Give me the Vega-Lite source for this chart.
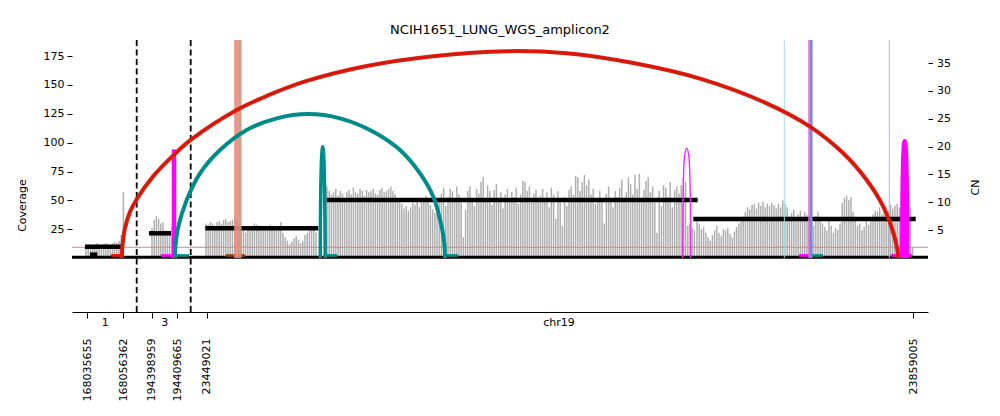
{
"$schema": "https://vega.github.io/schema/vega-lite/v6.json",
"width": 856, "height": 272,
"autosize": {"type": "none"},
"padding": {"left": 72, "top": 40, "right": 72, "bottom": 104},
"title": {"text": "NCIH1651_LUNG_WGS_amplicon2", "fontSize": 13, "fontWeight": "normal", "font": "DejaVu Sans", "color": "#000", "offset": 1, "anchor": "middle"},
"config": {"font": "DejaVu Sans", "view": {"stroke": null}, "axis": {"grid": false, "labelFont": "DejaVu Sans", "titleFont": "DejaVu Sans", "labelColor": "#000", "titleColor": "#000", "tickColor": "#000", "domainColor": "#000", "labelFontSize": 11, "titleFontSize": 11, "titleFontWeight": "normal"}},
"datasets": {
"cov": [
{"x":14,"c":11},{"x":16.2,"c":12},{"x":18.4,"c":10},{"x":20.6,"c":11},{"x":22.8,"c":12},{"x":25,"c":13},{"x":27.2,"c":12},{"x":29.4,"c":11},{"x":31.6,"c":12},{"x":33.8,"c":13},{"x":36,"c":12},{"x":38.2,"c":11},{"x":40.4,"c":13},{"x":42.6,"c":14},{"x":44.8,"c":13},{"x":47,"c":15},{"x":49.2,"c":20},{"x":51.4,"c":57},
{"x":80,"c":26},{"x":82.2,"c":33},{"x":84.4,"c":36},{"x":86.6,"c":34},{"x":88.8,"c":30},{"x":91,"c":31},{"x":93.2,"c":24},{"x":95.4,"c":20},{"x":97.6,"c":22},{"x":99.8,"c":27},
{"x":134,"c":30},{"x":136.2,"c":29},{"x":138.4,"c":31},{"x":140.6,"c":30},{"x":142.8,"c":28},
{"x":145,"c":31},{"x":147.2,"c":32},{"x":149.4,"c":30},{"x":151.6,"c":33},{"x":153.8,"c":34},
{"x":156,"c":31},{"x":158.2,"c":32},{"x":160.4,"c":33},{"x":162.6,"c":34},{"x":164.8,"c":33},
{"x":167,"c":30},{"x":169.2,"c":27},{"x":171.4,"c":24},{"x":173.6,"c":22},{"x":175.8,"c":26},
{"x":178,"c":25},{"x":180.2,"c":27},{"x":182.4,"c":30},{"x":184.6,"c":29},{"x":186.8,"c":26},
{"x":189,"c":28},{"x":191.2,"c":27},{"x":193.4,"c":25},{"x":195.6,"c":27},{"x":197.8,"c":29},
{"x":200,"c":28},{"x":202.2,"c":26},{"x":204.4,"c":24},{"x":206.6,"c":27},{"x":208.8,"c":31},
{"x":211,"c":22},{"x":213.2,"c":18},{"x":215.4,"c":15},{"x":217.6,"c":12},{"x":219.8,"c":14},
{"x":222,"c":17},{"x":224.2,"c":19},{"x":226.4,"c":16},{"x":228.6,"c":13},{"x":230.8,"c":15},
{"x":233,"c":20},{"x":235.2,"c":22},{"x":237.4,"c":24},{"x":239.6,"c":28},{"x":241.8,"c":25},
{"x":244,"c":22},
{"x":255,"c":62},{"x":257.2,"c":58},{"x":259.4,"c":55},{"x":261.6,"c":57},{"x":263.8,"c":60},{"x":266,"c":54},{"x":268.2,"c":58},{"x":270.4,"c":56},{"x":272.6,"c":52},{"x":274.8,"c":57},
{"x":277,"c":59},{"x":279.2,"c":55},{"x":281.4,"c":61},{"x":283.6,"c":57},{"x":285.8,"c":56},{"x":288,"c":60},{"x":290.2,"c":58},{"x":292.4,"c":54},{"x":294.6,"c":59},{"x":296.8,"c":57},
{"x":299,"c":58},{"x":301.2,"c":60},{"x":303.4,"c":56},{"x":305.6,"c":55},{"x":307.8,"c":59},{"x":310,"c":61},{"x":312.2,"c":57},{"x":314.4,"c":58},{"x":316.6,"c":60},{"x":318.8,"c":62},
{"x":321,"c":58},{"x":323.2,"c":55},{"x":325.4,"c":52},{"x":327.6,"c":50},{"x":329.8,"c":47},{"x":332,"c":43},{"x":334.2,"c":45},{"x":336.4,"c":41},{"x":338.6,"c":44},{"x":340.8,"c":48},
{"x":343,"c":46},{"x":345.2,"c":50},{"x":347.4,"c":44},{"x":349.6,"c":49},{"x":351.8,"c":52},{"x":354,"c":54},{"x":356.2,"c":49},{"x":358.4,"c":46},{"x":360.6,"c":42},{"x":362.8,"c":39},
{"x":365,"c":47},{"x":367.2,"c":51},{"x":369.4,"c":56},{"x":371.6,"c":61},{"x":373.8,"c":45},{"x":376,"c":53},{"x":378.2,"c":60},{"x":380.4,"c":58},{"x":382.6,"c":50},{"x":384.8,"c":62},
{"x":387,"c":55},{"x":389.2,"c":48},{"x":391.4,"c":18},{"x":393.6,"c":42},{"x":395.8,"c":58},{"x":398,"c":62},{"x":400.2,"c":52},{"x":402.4,"c":45},{"x":404.6,"c":60},{"x":406.8,"c":56},
{"x":409,"c":66},{"x":411.2,"c":70},{"x":413.4,"c":50},{"x":415.6,"c":63},{"x":417.8,"c":58},{"x":420,"c":46},{"x":422.2,"c":59},{"x":424.4,"c":64},{"x":426.6,"c":52},{"x":428.8,"c":57},
{"x":431,"c":43},{"x":433.2,"c":55},{"x":435.4,"c":60},{"x":437.6,"c":49},{"x":439.8,"c":57},{"x":442,"c":53},{"x":444.2,"c":61},{"x":446.4,"c":47},{"x":448.6,"c":55},{"x":450.8,"c":67},
{"x":453,"c":66},{"x":455.2,"c":58},{"x":457.4,"c":62},{"x":459.6,"c":48},{"x":461.8,"c":56},{"x":464,"c":59},{"x":466.2,"c":52},{"x":468.4,"c":54},{"x":470.6,"c":60},{"x":472.8,"c":50},
{"x":475,"c":57},{"x":477.2,"c":44},{"x":479.4,"c":61},{"x":481.6,"c":55},{"x":483.8,"c":34},{"x":486,"c":58},{"x":488.2,"c":49},{"x":490.4,"c":28},{"x":492.6,"c":53},{"x":494.8,"c":45},
{"x":497,"c":59},{"x":499.2,"c":62},{"x":501.4,"c":55},{"x":503.6,"c":71},{"x":505.8,"c":70},{"x":508,"c":58},{"x":510.2,"c":66},{"x":512.4,"c":72},{"x":514.6,"c":63},{"x":516.8,"c":68},
{"x":519,"c":55},{"x":521.2,"c":60},{"x":523.4,"c":47},{"x":525.6,"c":52},{"x":527.8,"c":58},{"x":530,"c":49},{"x":532.2,"c":30},{"x":534.4,"c":56},{"x":536.6,"c":62},{"x":538.8,"c":51},
{"x":541,"c":44},{"x":543.2,"c":58},{"x":545.4,"c":53},{"x":547.6,"c":61},{"x":549.8,"c":68},{"x":552,"c":49},{"x":554.2,"c":57},{"x":556.4,"c":70},{"x":558.6,"c":64},{"x":560.8,"c":55},
{"x":563,"c":72},{"x":565.2,"c":60},{"x":567.4,"c":73},{"x":569.6,"c":52},{"x":571.8,"c":59},{"x":574,"c":67},{"x":576.2,"c":70},{"x":578.4,"c":57},{"x":580.6,"c":62},{"x":582.8,"c":48},
{"x":585,"c":22},{"x":587.2,"c":58},{"x":589.4,"c":45},{"x":591.6,"c":63},{"x":593.8,"c":61},{"x":596,"c":53},{"x":598.2,"c":66},{"x":600.4,"c":44},{"x":602.6,"c":59},{"x":604.8,"c":62},
{"x":607,"c":56},{"x":609.2,"c":63},{"x":611.4,"c":70},{"x":613.6,"c":66},{"x":615.8,"c":28},{"x":618,"c":30},{"x":620.2,"c":26},{"x":622.4,"c":24},
{"x":625,"c":32},{"x":627.2,"c":30},{"x":629.4,"c":25},{"x":631.6,"c":27},{"x":633.8,"c":22},{"x":636,"c":18},{"x":638.2,"c":15},{"x":640.4,"c":20},{"x":642.6,"c":24},{"x":644.8,"c":28},
{"x":647,"c":22},{"x":649.2,"c":19},{"x":651.4,"c":25},{"x":653.6,"c":24},{"x":655.8,"c":26},{"x":658,"c":21},{"x":660.2,"c":18},{"x":662.4,"c":23},{"x":664.6,"c":27},{"x":666.8,"c":30},
{"x":669,"c":33},{"x":671.2,"c":36},{"x":673.4,"c":40},{"x":675.6,"c":44},{"x":677.8,"c":42},{"x":680,"c":46},{"x":682.2,"c":47},{"x":684.4,"c":43},{"x":686.6,"c":48},{"x":688.8,"c":45},
{"x":691,"c":49},{"x":693.2,"c":44},{"x":695.4,"c":47},{"x":697.6,"c":45},{"x":699.8,"c":48},{"x":702,"c":46},{"x":704.2,"c":43},{"x":706.4,"c":47},{"x":708.6,"c":44},{"x":710.8,"c":50},
{"x":713,"c":47},{"x":715.2,"c":44},{"x":717.4,"c":36},{"x":719.6,"c":39},{"x":721.8,"c":42},{"x":724,"c":33},{"x":726.2,"c":38},{"x":728.4,"c":41},{"x":730.6,"c":35},{"x":732.8,"c":40},
{"x":735,"c":37},{"x":737.2,"c":34},{"x":739.4,"c":31},{"x":741.6,"c":28},{"x":743.8,"c":36},{"x":746,"c":40},{"x":748.2,"c":35},{"x":750.4,"c":30},{"x":752.6,"c":27},{"x":754.8,"c":24},
{"x":757,"c":32},{"x":759.2,"c":28},{"x":761.4,"c":22},{"x":763.6,"c":26},{"x":765.8,"c":24},{"x":768,"c":30},{"x":770.2,"c":48},{"x":772.4,"c":52},{"x":774.6,"c":54},{"x":776.8,"c":50},
{"x":779,"c":53},{"x":781.2,"c":40},{"x":783.4,"c":32},{"x":785.6,"c":28},{"x":787.8,"c":30},{"x":790,"c":24},{"x":792.2,"c":27},{"x":794.4,"c":33},{"x":796.6,"c":29},{"x":798.8,"c":35},
{"x":801,"c":38},{"x":803.2,"c":41},{"x":805.4,"c":40},{"x":807.6,"c":44},{"x":809.8,"c":38},{"x":812,"c":42},{"x":814.2,"c":44},{"x":816.4,"c":41},{"x":818.6,"c":46},{"x":820.8,"c":43},
{"x":823,"c":45},{"x":825.2,"c":47},{"x":827.4,"c":44},{"x":829.6,"c":42},{"x":831.8,"c":40},{"x":834,"c":38},{"x":836.2,"c":36},{"x":838.4,"c":44},{"x":840.6,"c":9}
],
"cn": [
{"x":13,"x2":49,"cn":2.03},{"x":18,"x2":25.3,"cn":0.6},{"x":77,"x2":99,"cn":4.44},{"x":133.3,"x2":246.3,"cn":5.33},{"x":254.7,"x2":625.7,"cn":10.42},{"x":621.3,"x2":843.7,"cn":7.0}
],
"arcRed": [
{"x":49.7,"y":0},{"x":50.6,"y":12},{"x":53,"y":26},{"x":58,"y":40},{"x":64.7,"y":51},{"x":81.3,"y":71},{"x":101.3,"y":89},{"x":119.7,"y":103},{"x":164.7,"y":128.3},{"x":194.7,"y":140.5},{"x":234.7,"y":153.5},{"x":294.7,"y":166.5},{"x":361.3,"y":175},{"x":435,"y":179.3},{"x":494.7,"y":177.5},{"x":561.3,"y":169},{"x":628,"y":155.5},{"x":694.7,"y":134.1},{"x":738,"y":113.9},{"x":771.3,"y":90.8},{"x":794.7,"y":67.6},{"x":811.3,"y":44.5},{"x":821.3,"y":22},{"x":825,"y":9},{"x":826.3,"y":0}
],
"arcTeal": [
{"x":103,"y":0},{"x":103.6,"y":12},{"x":106.3,"y":27.1},{"x":114.7,"y":50.3},{"x":128,"y":73.4},{"x":148,"y":93.6},{"x":174.7,"y":111},{"x":204.7,"y":121.1},{"x":236.3,"y":124.8},{"x":268,"y":121.1},{"x":301.3,"y":109.5},{"x":328,"y":93.6},{"x":348,"y":73.4},{"x":361.3,"y":53.2},{"x":369.7,"y":27.1},{"x":372.4,"y":12},{"x":373,"y":0}
],
"spikeTeal": [
{"x":248.2,"y":0},{"x":248.4,"y":30},{"x":248.8,"y":60},{"x":249.5,"y":85},{"x":250.7,"y":96.5},{"x":251.9,"y":85},{"x":252.6,"y":60},{"x":253,"y":30},{"x":253.2,"y":0}
],
"arcMag": [
{"x":610.7,"y":0},{"x":610.9,"y":40},{"x":611.5,"y":70},{"x":612.5,"y":88},{"x":614.7,"y":95.1},{"x":616.9,"y":88},{"x":617.9,"y":70},{"x":618.5,"y":40},{"x":618.7,"y":0}
],
"spikeMag": [
{"x":830.5,"y":0},{"x":830.7,"y":40},{"x":831.2,"y":75},{"x":831.9,"y":93},{"x":832.7,"y":101},{"x":833.5,"y":93},{"x":834.2,"y":75},{"x":834.7,"y":40},{"x":834.9,"y":0}
]
},
"layer": [
{
"layer": [
{"data": {"name": "cov"}, "mark": {"type": "rule", "color": "#adadad", "strokeWidth": 1.45},
 "encoding": {
  "x": {"field": "x", "type": "quantitative", "scale": {"domain": [0, 856], "nice": false, "zero": false},
        "axis": {"orient": "bottom", "values": [15.3, 51.3, 79.7, 105.3, 134.7, 841.3], "labelExpr": "datum.value < 20 ? '168035655' : datum.value < 60 ? '168056362' : datum.value < 90 ? '194398959' : datum.value < 120 ? '194409665' : datum.value < 500 ? '23449021' : '23859005'", "labelAngle": 270, "labelPadding": 20, "tickSize": 6, "title": null, "labelOverlap": false, "labelBound": false, "labelFlush": false, "domainWidth": 1}},
  "y": {"field": "c", "type": "quantitative", "scale": {"domain": [-46.8, 189], "nice": false, "zero": false},
        "axis": {"orient": "left", "values": [25, 50, 75, 100, 125, 150, 175], "domain": false, "tickSize": 5, "labelPadding": 3, "title": "Coverage", "titleX": -50, "titleY": 165, "titleAngle": 270, "titleAlign": "center", "titleBaseline": "middle"}},
  "y2": {"datum": 0}
 }},
{"data": {"values": [{"c": 9.3}]}, "mark": {"type": "rule", "color": "#f07c7c", "strokeWidth": 1},
 "encoding": {"y": {"field": "c", "type": "quantitative"}}},
{"data": {"values": [{"c": 0.6}]}, "mark": {"type": "rule", "color": "#000", "strokeWidth": 3},
 "encoding": {"y": {"field": "c", "type": "quantitative"}}},
{"data": {"values": [{"x": 39, "x2": 52, "c": 2.2}]}, "mark": {"type": "rule", "color": "#ee1100", "strokeWidth": 2.7},
 "encoding": {"x": {"field": "x", "type": "quantitative"}, "x2": {"field": "x2"}, "y": {"field": "c", "type": "quantitative"}}},
{"data": {"values": [{"x": 89, "x2": 100, "c": 2.2}, {"x": 727, "x2": 737, "c": 2.2}, {"x": 819, "x2": 840, "c": 2.2}]}, "mark": {"type": "rule", "color": "#ff00ff", "strokeWidth": 2.7},
 "encoding": {"x": {"field": "x", "type": "quantitative"}, "x2": {"field": "x2"}, "y": {"field": "c", "type": "quantitative"}}},
{"data": {"values": [{"x": 105, "x2": 117, "c": 2.2}, {"x": 254, "x2": 265, "c": 2.2}, {"x": 373, "x2": 386, "c": 2.2}, {"x": 739, "x2": 751, "c": 2.2}]}, "mark": {"type": "rule", "color": "#008b8b", "strokeWidth": 2.7},
 "encoding": {"x": {"field": "x", "type": "quantitative"}, "x2": {"field": "x2"}, "y": {"field": "c", "type": "quantitative"}}},
{"data": {"values": [{"x": 154, "x2": 173, "c": 2.2}]}, "mark": {"type": "rule", "color": "#8b4513", "strokeWidth": 2.7},
 "encoding": {"x": {"field": "x", "type": "quantitative"}, "x2": {"field": "x2"}, "y": {"field": "c", "type": "quantitative"}}},
{"data": {"values": [{"x": 64.7}, {"x": 118.7}]}, "mark": {"type": "rule", "color": "#000", "strokeWidth": 1.8, "strokeDash": [6, 3.5]},
 "encoding": {"x": {"field": "x", "type": "quantitative"}}},
{"data": {"values": [{"x": 33.3, "c": -46.8, "name": "1"}, {"x": 92.7, "c": -46.8, "name": "3"}, {"x": 487, "c": -46.8, "name": "chr19"}]}, "mark": {"type": "text", "fontSize": 11, "baseline": "middle", "align": "center", "dy": 11, "color": "#000", "font": "DejaVu Sans"},
 "encoding": {"x": {"field": "x", "type": "quantitative"}, "y": {"field": "c", "type": "quantitative"}, "text": {"field": "name", "type": "nominal"}}}
]
},
{
"layer": [
{"data": {"name": "cn"}, "mark": {"type": "rule", "color": "#000", "strokeWidth": 4.5},
 "encoding": {
  "x": {"field": "x", "type": "quantitative"},
  "x2": {"field": "x2"},
  "y": {"field": "cn", "type": "quantitative", "scale": {"domain": [-9.7, 39.16], "nice": false, "zero": false},
        "axis": {"orient": "right", "values": [5, 10, 15, 20, 25, 30, 35], "domain": false, "tickSize": 4.5, "labelPadding": 4, "title": "CN", "titleX": 47, "titleY": 147, "titleAngle": 270, "titleAlign": "center", "titleBaseline": "middle"}}
 }}
]
},
{
"layer": [
{"data": {"values": [{"x": 164.2, "b": 0, "t": 189}]}, "mark": {"type": "rule", "color": "#f3877a", "strokeWidth": 4, "opacity": 0.9},
 "encoding": {"x": {"field": "x", "type": "quantitative"}, "y": {"field": "t", "type": "quantitative", "scale": {"domain": [-46.8, 189], "nice": false, "zero": false}, "axis": null}, "y2": {"field": "b"}}},
{"data": {"values": [{"x": 167.8, "b": 0, "t": 189}]}, "mark": {"type": "rule", "color": "#c99a82", "strokeWidth": 3.6, "opacity": 0.9},
 "encoding": {"x": {"field": "x", "type": "quantitative"}, "y": {"field": "t", "type": "quantitative", "axis": null}, "y2": {"field": "b"}}},
{"data": {"values": [{"x": 712.3, "b": 0, "t": 189}]}, "mark": {"type": "rule", "color": "#a6dede", "strokeWidth": 1},
 "encoding": {"x": {"field": "x", "type": "quantitative"}, "y": {"field": "t", "type": "quantitative", "axis": null}, "y2": {"field": "b"}}},
{"data": {"values": [{"x": 817.3, "b": 0, "t": 189}]}, "mark": {"type": "rule", "color": "#b4b4f0", "strokeWidth": 1},
 "encoding": {"x": {"field": "x", "type": "quantitative"}, "y": {"field": "t", "type": "quantitative", "axis": null}, "y2": {"field": "b"}}},
{"data": {"values": [{"x": 739, "b": 0, "t": 189}]}, "mark": {"type": "rule", "color": "#7e88cc", "strokeWidth": 3.2},
 "encoding": {"x": {"field": "x", "type": "quantitative"}, "y": {"field": "t", "type": "quantitative", "axis": null}, "y2": {"field": "b"}}},
{"data": {"values": [{"x": 736.9, "b": 0, "t": 189}]}, "mark": {"type": "rule", "color": "#e264e2", "strokeWidth": 1.3},
 "encoding": {"x": {"field": "x", "type": "quantitative"}, "y": {"field": "t", "type": "quantitative", "axis": null}, "y2": {"field": "b"}}},
{"data": {"values": [{"x": 102, "b": 0, "t": 94.2}]}, "mark": {"type": "rule", "color": "#ff00ff", "strokeWidth": 4.5},
 "encoding": {"x": {"field": "x", "type": "quantitative"}, "y": {"field": "t", "type": "quantitative", "axis": null}, "y2": {"field": "b"}}},
{"data": {"name": "arcTeal"}, "mark": {"type": "line", "interpolate": "catmull-rom", "color": "#008b8b", "strokeWidth": 4},
 "encoding": {"x": {"field": "x", "type": "quantitative"}, "y": {"field": "y", "type": "quantitative", "axis": null}}},
{"data": {"name": "spikeTeal"}, "mark": {"type": "line", "interpolate": "monotone", "color": "#008b8b", "strokeWidth": 3.5},
 "encoding": {"x": {"field": "x", "type": "quantitative"}, "y": {"field": "y", "type": "quantitative", "axis": null}}},
{"data": {"name": "arcMag"}, "mark": {"type": "line", "interpolate": "monotone", "color": "#ff22ff", "strokeWidth": 1.4},
 "encoding": {"x": {"field": "x", "type": "quantitative"}, "y": {"field": "y", "type": "quantitative", "axis": null}}},
{"data": {"name": "spikeMag"}, "mark": {"type": "line", "interpolate": "monotone", "color": "#ff00ff", "strokeWidth": 5},
 "encoding": {"x": {"field": "x", "type": "quantitative"}, "y": {"field": "y", "type": "quantitative", "axis": null}}},
{"data": {"name": "arcRed"}, "mark": {"type": "line", "interpolate": "catmull-rom", "color": "#e8170a", "strokeWidth": 4},
 "encoding": {"x": {"field": "x", "type": "quantitative"}, "y": {"field": "y", "type": "quantitative", "axis": null}}},
{"data": {"name": "arcRed"}, "mark": {"type": "line", "interpolate": "catmull-rom", "color": "#9a2a12", "strokeWidth": 1.3, "opacity": 0.55},
 "encoding": {"x": {"field": "x", "type": "quantitative"}, "y": {"field": "y", "type": "quantitative", "axis": null}}}
]
}
],
"resolve": {"scale": {"y": "independent"}}
}
